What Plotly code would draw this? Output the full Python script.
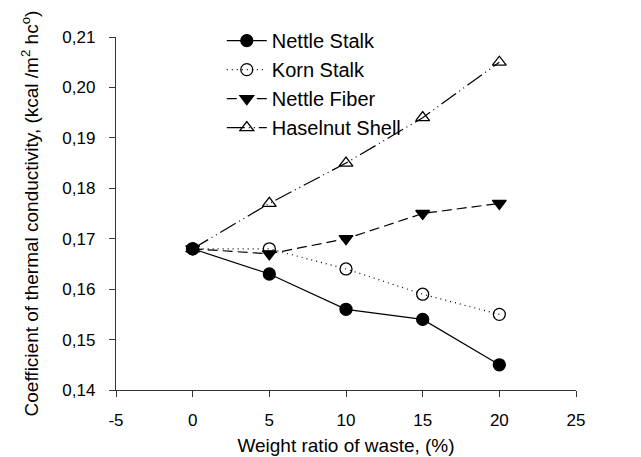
import plotly.graph_objects as go

weight_ratio = [0, 5, 10, 15, 20]
nettle_stalk = [0.168, 0.163, 0.156, 0.154, 0.145]
korn_stalk = [0.168, 0.168, 0.164, 0.159, 0.155]
nettle_fiber = [0.168, 0.167, 0.170, 0.175, 0.177]
haselnut_shell = [0.168, 0.177, 0.185, 0.194, 0.205]

x_ticks = [-5, 0, 5, 10, 15, 20, 25]
x_tick_labels = ["-5", "0", "5", "10", "15", "20", "25"]
y_ticks = [0.14, 0.15, 0.16, 0.17, 0.18, 0.19, 0.20, 0.21]

FONT = "Liberation Sans, Arial, sans-serif"

series = [
    ("Nettle Stalk", nettle_stalk, "solid", "circle", "black"),
    ("Korn Stalk", korn_stalk, "1px,4px", "circle-open", "black"),
    ("Nettle Fiber", nettle_fiber, "10px,5px", "triangle-down", "black"),
    ("Haselnut Shell", haselnut_shell, "18px,4px,1px,4px,1px,4px", "triangle-up-open", "black"),
]

fig = go.Figure()
for name, vals, dash, sym, col in series:
    fig.add_trace(go.Scatter(
        x=weight_ratio, y=vals, name=name, mode="lines+markers",
        line=dict(color="black", width=1.2, dash=dash),
        marker=dict(symbol=sym, size=12, color=col,
                    line=dict(color="black", width=1.3)),
    ))

fig.update_layout(
    width=641, height=457,
    margin=dict(l=108, r=73, t=29, b=73),
    paper_bgcolor="white", plot_bgcolor="white",
    separators=",.",
    font=dict(family=FONT, size=17, color="black"),
    showlegend=True,
    legend=dict(
        x=0.23, y=1.045, xanchor="left", yanchor="top",
        bgcolor="rgba(0,0,0,0)", borderwidth=0,
        font=dict(size=20, family=FONT),
        tracegroupgap=0, itemwidth=40,
    ),
    xaxis=dict(
        range=[-5, 25], tickvals=x_ticks, ticktext=x_tick_labels,
        showgrid=False, zeroline=False,
        showline=True, linecolor="#333", linewidth=1.3,
        ticks="outside", ticklen=6, tickcolor="#333", ticklabelstandoff=8,
        title=dict(text="Weight ratio of waste, (%)", font=dict(size=19), standoff=10),
    ),
    yaxis=dict(
        range=[0.14, 0.21], tickvals=y_ticks, tickformat=".2f",
        showgrid=False, zeroline=False,
        showline=True, linecolor="#333", linewidth=1.3,
        ticks="outside", ticklen=6, tickcolor="#333", ticklabelstandoff=10,
        title=dict(text="Coefficient of thermal conductivity, (kcal /m<sup>2</sup> hc<sup>o</sup>)",
                   font=dict(size=19), standoff=18),
    ),
)

fig.write_html("out.html")
